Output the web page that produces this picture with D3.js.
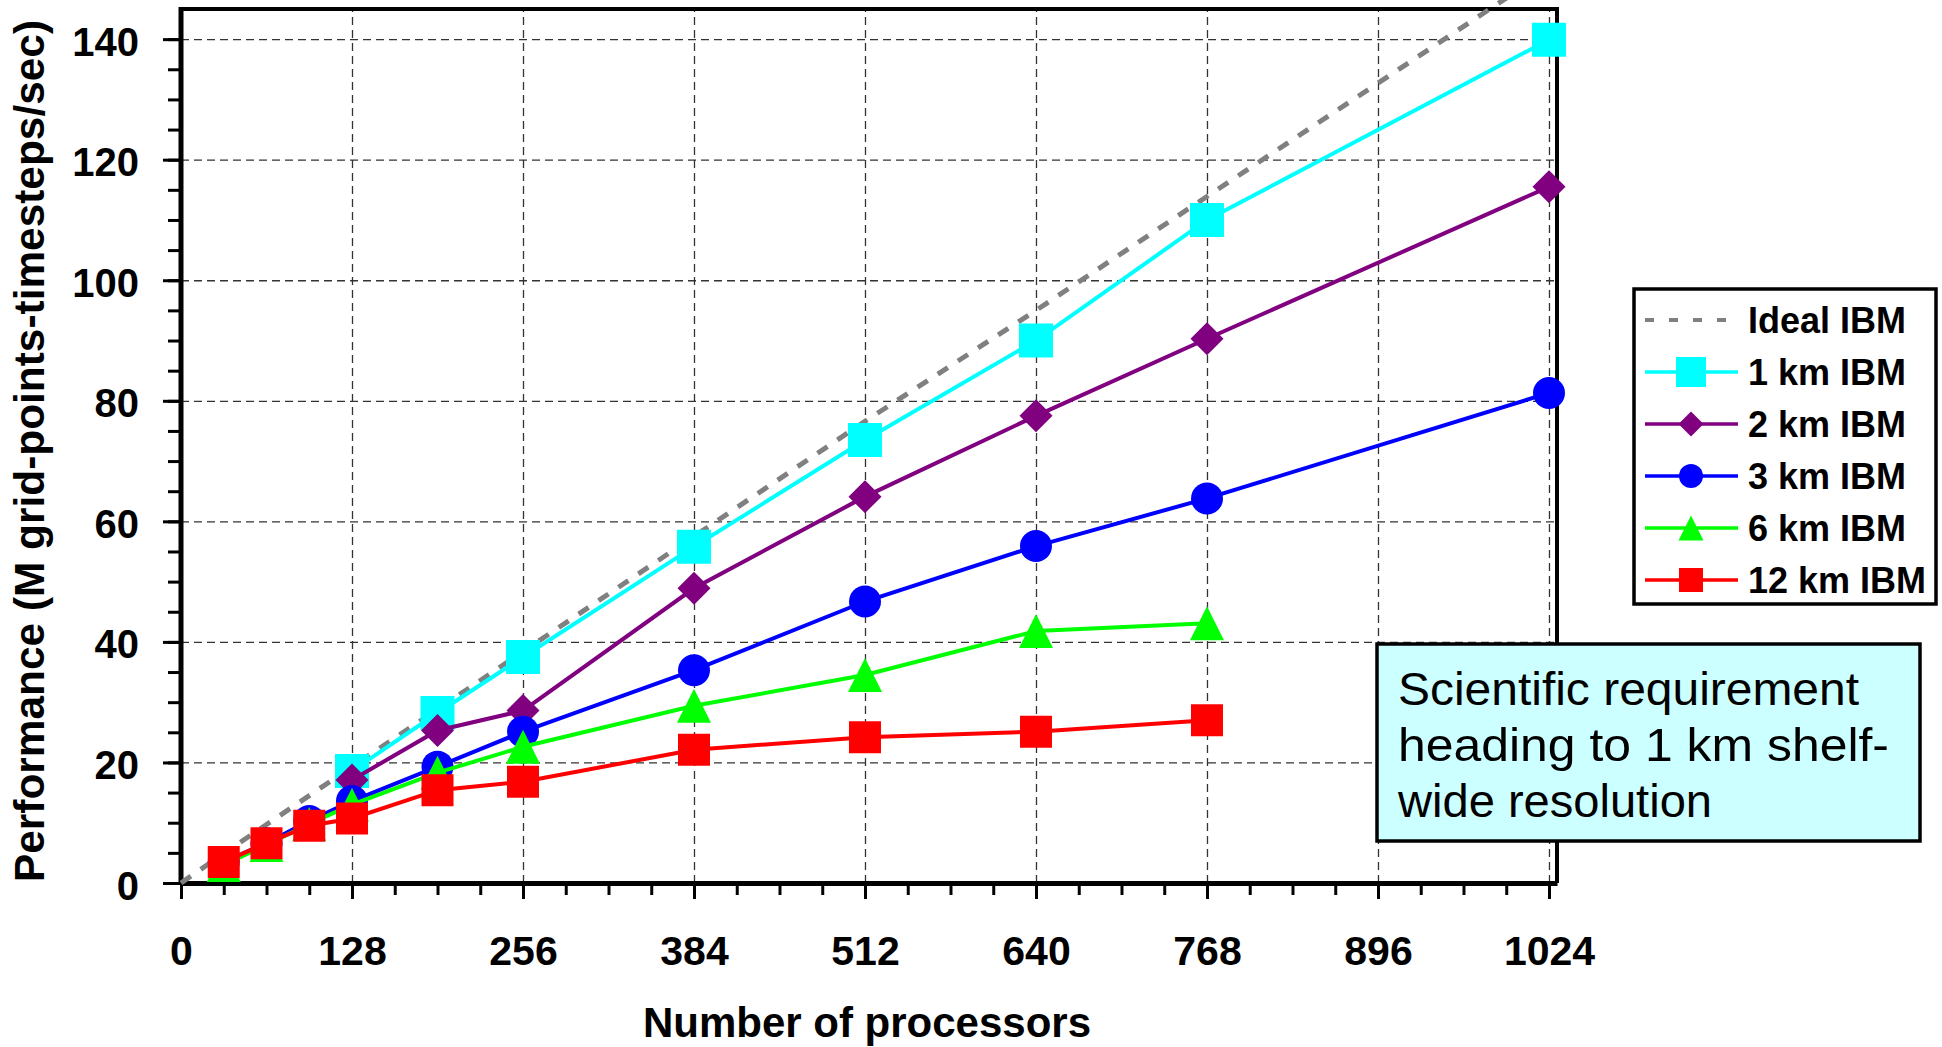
<!DOCTYPE html>
<html>
<head>
<meta charset="utf-8">
<script src="https://cdn.jsdelivr.net/npm/d3@7"></script>
<style>
    html, body { margin: 0; padding: 0; background: #fff; }
    svg { display: block; font-family: "Liberation Sans", Arial, sans-serif; }
</style>
</head>
<body>
<div id="chart"></div>
<script>
// Processor counts and performance (M grid-points-timesteps/sec)
const idealProcs = [0, 32, 64, 96, 128, 192, 256, 384, 512, 640, 768, 1024];
const idealPerf = [0, 4.9, 9.7, 14.5, 19.3, 28.8, 38.4, 57.5, 76.6, 95.0, 113.9, 151.5];

const km1Procs = [128, 192, 256, 384, 512, 640, 768, 1024];
const km1Perf = [18.6, 28.2, 37.5, 55.8, 73.5, 90.0, 110.0, 139.9];

const km2Procs = [128, 192, 256, 384, 512, 640, 768, 1024];
const km2Perf = [17.1, 25.3, 28.6, 48.9, 64.1, 77.5, 90.3, 115.5];

const km3Procs = [32, 64, 96, 128, 192, 256, 384, 512, 640, 768, 1024];
const km3Perf = [3.5, 6.6, 10.3, 13.6, 19.3, 25.1, 35.3, 46.7, 55.9, 63.8, 81.3];

const km6Procs = [32, 64, 96, 128, 192, 256, 384, 512, 640, 768];
const km6Perf = [3.0, 6.3, 9.8, 13.0, 18.3, 22.6, 29.4, 34.5, 41.8, 43.1];

const km12Procs = [32, 64, 96, 128, 192, 256, 384, 512, 640, 768];
const km12Perf = [3.5, 6.6, 9.5, 10.7, 15.4, 16.8, 22.1, 24.2, 25.1, 27.0];

const xTicks = [0, 128, 256, 384, 512, 640, 768, 896, 1024];
const yTicks = [0, 20, 40, 60, 80, 100, 120, 140];

const seriesNames = ['Ideal IBM', '1 km IBM', '2 km IBM', '3 km IBM', '6 km IBM', '12 km IBM'];
const noteLines = ['Scientific requirement', 'heading to 1 km shelf-', 'wide resolution'];

/**
 * Path for an Excel style marker, centred on its bounding box
 */
function markerPath(shape, s) {
    const h = s / 2;
    if (shape === 'square') return `M${-h},${-h}H${h}V${h}H${-h}Z`;
    if (shape === 'diamond') return `M0,${-h}L${h},0L0,${h}L${-h},0Z`;
    if (shape === 'triangle') return `M0,${-h}L${h},${h}L${-h},${h}Z`;
    if (shape === 'circle') return `M${-h},0A${h},${h} 0 1,0 ${h},0A${h},${h} 0 1,0 ${-h},0Z`;
    return '';
}

function renderChart() {
    const width = 1942;
    const height = 1047;
    const plot = { left: 181, right: 1557, top: 9, bottom: 883 };
    const font = '"Liberation Sans", Arial, sans-serif';

    const svg = d3.select('#chart')
        .append('svg')
        .attr('width', width)
        .attr('height', height);

    const xScale = d3.scaleLinear()
        .domain([0, 1030])
        .range([plot.left, plot.right]);

    const yScale = d3.scaleLinear()
        .domain([0, 145])
        .range([plot.bottom, plot.top]);

    // Dashed gridlines
    svg.append('g')
        .attr('transform', `translate(${plot.left}, 0)`)
        .call(d3.axisLeft(yScale)
            .tickValues(yTicks.slice(1))
            .tickSize(-(plot.right - plot.left))
            .tickFormat(''))
        .call(g => g.select('.domain').remove())
        .selectAll('line')
        .attr('stroke', '#333')
        .attr('stroke-width', 1.3)
        .attr('stroke-dasharray', '8,5');

    svg.append('g')
        .attr('transform', `translate(0, ${plot.bottom})`)
        .call(d3.axisBottom(xScale)
            .tickValues(xTicks.slice(1))
            .tickSize(-(plot.bottom - plot.top))
            .tickFormat(''))
        .call(g => g.select('.domain').remove())
        .selectAll('line')
        .attr('stroke', '#333')
        .attr('stroke-width', 1.3)
        .attr('stroke-dasharray', '8,5');

    // Top and right frame
    svg.append('path')
        .attr('d', `M${plot.left},${plot.top}H${plot.right}V${plot.bottom}`)
        .attr('fill', 'none')
        .attr('stroke', '#000')
        .attr('stroke-width', 4);

    // Minor ticks
    svg.append('g')
        .attr('transform', `translate(0, ${plot.bottom})`)
        .call(d3.axisBottom(xScale).tickValues(d3.range(0, 1025, 32)).tickSize(12).tickFormat(''))
        .call(g => g.select('.domain').remove())
        .selectAll('line').attr('stroke', '#000').attr('stroke-width', 3);

    svg.append('g')
        .attr('transform', `translate(${plot.left}, 0)`)
        .call(d3.axisLeft(yScale).tickValues(d3.range(0, 141, 5)).tickSize(13).tickFormat(''))
        .call(g => g.select('.domain').remove())
        .selectAll('line').attr('stroke', '#000').attr('stroke-width', 3);

    // X axis
    const xAxis = svg.append('g')
        .attr('transform', `translate(0, ${plot.bottom})`)
        .call(d3.axisBottom(xScale)
            .tickValues(xTicks)
            .tickFormat(d3.format('d'))
            .tickSize(16)
            .tickSizeOuter(0));
    xAxis.select('.domain').attr('stroke-width', 5);
    xAxis.selectAll('line').attr('stroke-width', 3);
    xAxis.selectAll('text')
        .attr('y', 82)
        .attr('dy', null)
        .style('font-family', font)
        .style('font-size', '41px')
        .style('font-weight', 'bold')
        .style('fill', '#000');

    // Y axis
    const yAxis = svg.append('g')
        .attr('transform', `translate(${plot.left}, 0)`)
        .call(d3.axisLeft(yScale).tickValues(yTicks).tickSize(18).tickSizeOuter(0));
    yAxis.select('.domain').attr('stroke-width', 5)
        .attr('d', `M0,${plot.bottom + 2}V${plot.top - 2}`);
    yAxis.selectAll('line').attr('stroke-width', 3);
    yAxis.selectAll('text')
        .attr('x', -42)
        .attr('dy', null)
        .attr('y', 16)
        .style('font-family', font)
        .style('font-size', '40px')
        .style('font-weight', 'bold')
        .style('fill', '#000');

    // Axis titles
    svg.append('text')
        .attr('x', 867)
        .attr('y', 1037)
        .attr('text-anchor', 'middle')
        .style('font-size', '42px')
        .style('font-weight', 'bold')
        .text('Number of processors');

    svg.append('text')
        .attr('transform', 'rotate(-90)')
        .attr('x', -451)
        .attr('y', 44)
        .attr('text-anchor', 'middle')
        .attr('textLength', 862)
        .attr('lengthAdjust', 'spacingAndGlyphs')
        .style('font-size', '43px')
        .style('font-weight', 'bold')
        .text('Performance (M grid-points-timesteps/sec)');

    // Series
    const series = [
        { name: seriesNames[0], procs: idealProcs, perf: idealPerf, color: '#808080', dash: '12,12', width: 5, shape: null },
        { name: seriesNames[1], procs: km1Procs, perf: km1Perf, color: '#00ffff', dash: null, width: 4, shape: 'square', size: 34, legendSize: 30 },
        { name: seriesNames[2], procs: km2Procs, perf: km2Perf, color: '#800080', dash: null, width: 4, shape: 'diamond', size: 33, legendSize: 25 },
        { name: seriesNames[3], procs: km3Procs, perf: km3Perf, color: '#0000ff', dash: null, width: 4, shape: 'circle', size: 32, legendSize: 24 },
        { name: seriesNames[4], procs: km6Procs, perf: km6Perf, color: '#00ff00', dash: null, width: 4, shape: 'triangle', size: 34, legendSize: 25 },
        { name: seriesNames[5], procs: km12Procs, perf: km12Perf, color: '#ff0000', dash: null, width: 4, shape: 'square', size: 32, legendSize: 24 }
    ];

    const line = d3.line()
        .x(d => xScale(d[0]))
        .y(d => yScale(d[1]));

    series.forEach(s => {
        const pts = s.procs.map((p, i) => [p, s.perf[i]]);
        const grp = svg.append('g');

        grp.append('path')
            .datum(pts)
            .attr('fill', 'none')
            .attr('stroke', s.color)
            .attr('stroke-width', s.width)
            .attr('stroke-dasharray', s.dash)
            .attr('d', line);

        if (s.shape) {
            grp.selectAll('.marker')
                .data(pts)
                .enter()
                .append('path')
                .attr('class', 'marker')
                .attr('transform', d => `translate(${xScale(d[0])}, ${yScale(d[1])})`)
                .attr('d', markerPath(s.shape, s.size))
                .attr('fill', s.color);
        }
    });

    // Legend
    const legend = svg.append('g');
    legend.append('rect')
        .attr('x', 1634)
        .attr('y', 289)
        .attr('width', 302)
        .attr('height', 315)
        .attr('fill', '#fff')
        .attr('stroke', '#000')
        .attr('stroke-width', 3.5);

    series.forEach((s, i) => {
        const yPos = 320 + i * 52;

        legend.append('line')
            .attr('x1', 1645)
            .attr('x2', 1738)
            .attr('y1', yPos)
            .attr('y2', yPos)
            .attr('stroke', s.color)
            .attr('stroke-width', s.shape ? 3.5 : 4)
            .attr('stroke-dasharray', s.shape ? null : '9,15');

        if (s.shape) {
            legend.append('path')
                .attr('transform', `translate(1691, ${yPos})`)
                .attr('d', markerPath(s.shape, s.legendSize))
                .attr('fill', s.color);
        }

        legend.append('text')
            .attr('x', 1748)
            .attr('y', yPos + 12.5)
            .style('font-size', '36px')
            .style('font-weight', 'bold')
            .text(s.name);
    });

    // Annotation box
    const note = svg.append('g');
    note.append('rect')
        .attr('x', 1377)
        .attr('y', 644)
        .attr('width', 543)
        .attr('height', 197)
        .attr('fill', '#ccffff')
        .attr('stroke', '#000')
        .attr('stroke-width', 3.5);

    const noteWidths = [461, 491, 314];
    noteLines.forEach((t, i) => {
        note.append('text')
            .attr('x', 1398)
            .attr('y', 705 + i * 56)
            .attr('textLength', noteWidths[i])
            .attr('lengthAdjust', 'spacingAndGlyphs')
            .style('font-size', '47px')
            .text(t);
    });
}

renderChart();
</script>
</body>
</html>
